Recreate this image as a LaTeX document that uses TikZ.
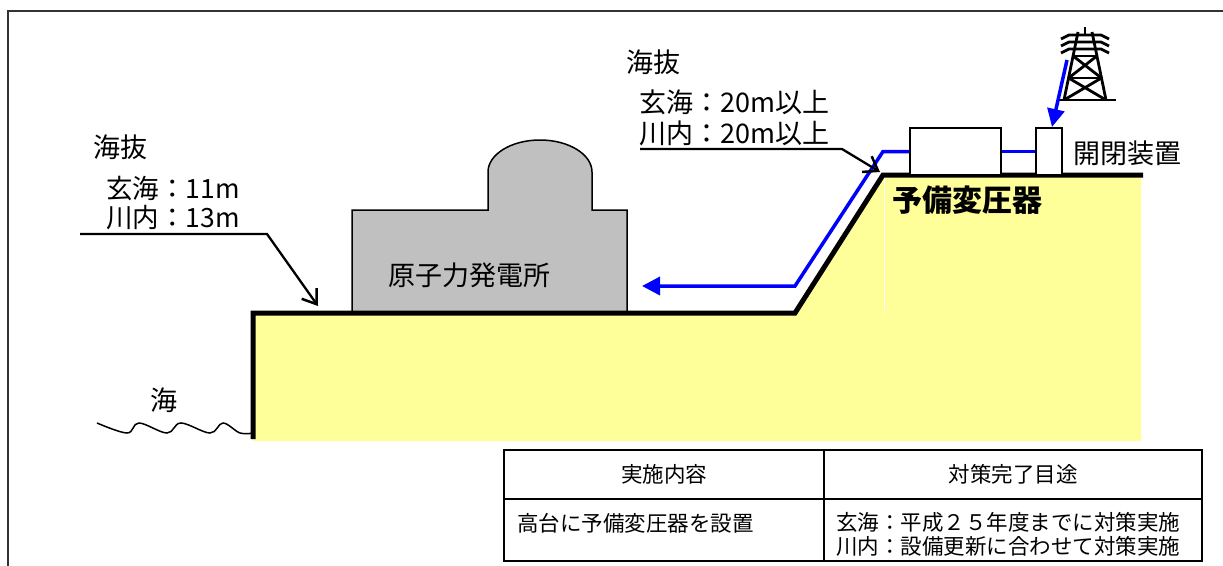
\documentclass[tikz,border=0pt]{standalone}
\usepackage{fontspec}
\setmainfont{Noto Sans CJK JP}
\usetikzlibrary{arrows.meta}
\definecolor{groundyellow}{HTML}{FFFF99}
\definecolor{plantgray}{HTML}{C0C0C0}
\definecolor{framegray}{HTML}{333333}
\definecolor{feedblue}{HTML}{0000FF}

\begin{document}
\begin{tikzpicture}[x=1pt,y=-1pt,
  every node/.style={inner sep=0pt},
  jp/.style={font=\fontsize{27}{30}\selectfont},
  jpsmall/.style={font=\fontsize{26.5}{29}\selectfont},
  jpbold/.style={font=\fontsize{30}{33}\selectfont\bfseries},
  tabtext/.style={font=\fontsize{21.5}{24}\selectfont},
  groundline/.style={line width=5pt, line join=miter},
  feedline/.style={draw=feedblue, line width=3.5pt},
  leader/.style={line width=2.3pt, -{Straight Barb[angle=70:16pt, line width=2.5pt]}},
  equip/.style={draw, line width=2pt, fill=white},
  towerline/.style={line width=2.8pt},
  tableline/.style={line width=1.8pt}
]
\useasboundingbox (0,0) rectangle (1223,565);
\clip (0,0) rectangle (1223,565);

% outer frame
\draw[framegray, line width=1.5pt] (8,11) rectangle (1250,600);

% ground body
\fill[groundyellow] (253,313) -- (795,313) -- (883,175) -- (1141,175) -- (1141,441) -- (253,441) -- cycle;
\draw[white, line width=0.8pt] (884.5,178) -- (884.5,313);

% power station building with containment dome
\draw[fill=plantgray, line width=1.5pt] (352,313) -- (352,210) -- (488,210) -- (488,172)
  arc[start angle=180, end angle=0, x radius=52pt, y radius=32pt]
  -- (592,210) -- (627,210) -- (627,313);
\node[jp] (plant) at (469,275) {原子力発電所};

% ground profile
\draw[groundline] (253,439) -- (253,313) -- (795,313) -- (883,175) -- (1143,175);

% sea surface
\draw[line width=1.5pt] plot[smooth, tension=0.6] coordinates
  {(97,423) (127,433) (139,423) (167,433) (181,423) (210,433) (223,423) (240,433) (253,433)};
\node[jp] (sea) at (164,400) {海};

% transmission tower
\draw[towerline] (1085,27) -- (1085,34);
\foreach \y in {35,42,49}
  \draw[towerline] (1061,\y+4) -- (1069,\y) -- (1101,\y) -- (1109,\y+4);
\draw[towerline] (1078,32) -- (1064,100);
\draw[towerline] (1092,32) -- (1106,100);
\draw[towerline] (1073.1,56) -- (1096.9,56);
\draw[towerline] (1068.6,78) -- (1101.4,78);
\draw[towerline] (1073.1,56) -- (1101.4,78);
\draw[towerline] (1096.9,56) -- (1068.6,78);
\draw[towerline] (1068.6,78) -- (1106,100);
\draw[towerline] (1101.4,78) -- (1064,100);
\draw[towerline] (1058,100) -- (1116,100);

% equipment on the high ground
\node[equip, minimum width=91pt, minimum height=47pt] (trafo) at (955.5,151.5) {};
\node[equip, minimum width=26pt, minimum height=47pt] (gear) at (1049,151.5) {};
\node[jp, anchor=west] (gearlabel) at (1073,153) {開閉装置};
\node[jpbold] (trafolabel) at (967,200) {予備変圧器};

% power feed lines
\coordinate (towerfeed) at (1067,60);
\coordinate (feedend) at (642,286);
\draw[feedline] (trafo.east) -- (gear.west);
\draw[feedline, -{Triangle[length=18pt,width=17pt]}] (towerfeed) -- ([xshift=3pt]gear.north);
\draw[feedline, -{Triangle[length=18pt,width=18pt]}] (trafo.west) -- (883,151.5) -- (795,286) -- (feedend);

% elevation of the station site
\node[jp, anchor=west] (elevlow) at (93,147) {海抜};
\node[jpsmall, anchor=west] (genkailow) at (106,189) {玄海：11m};
\node[jpsmall, anchor=west] (sendailow) at (106,217.5) {川内：13m};
\coordinate (lowmark) at (80,234);
\draw[leader] (lowmark) -- (267,234) -- (318,306);

% elevation of the high ground
\node[jp, anchor=west] (elevhigh) at (626,62) {海抜};
\node[jp, anchor=west] (genkaihigh) at (639,102) {玄海：20m以上};
\node[jp, anchor=west] (sendaihigh) at (639,133) {川内：20m以上};
\coordinate (highmark) at (640,149);
\draw[leader] (highmark) -- (842,149) -- (880,172);

% measures table
\node[tabtext] (head1) at (664,474) {実施内容};
\node[tabtext] (head2) at (1013,474) {対策完了目途};
\node[tabtext, anchor=west] (cell1) at (517,523) {高台に予備変圧器を設置};
\node[tabtext, anchor=west] (cell2) at (836,522) {玄海：平成２５年度までに対策実施};
\node[tabtext, anchor=west] (cell3) at (836,546) {川内：設備更新に合わせて対策実施};
\draw[tableline] (504,450) rectangle (1202,561);
\draw[tableline] (504,499) -- (1202,499);
\draw[tableline] (824,450) -- (824,561);
\end{tikzpicture}
\end{document}
